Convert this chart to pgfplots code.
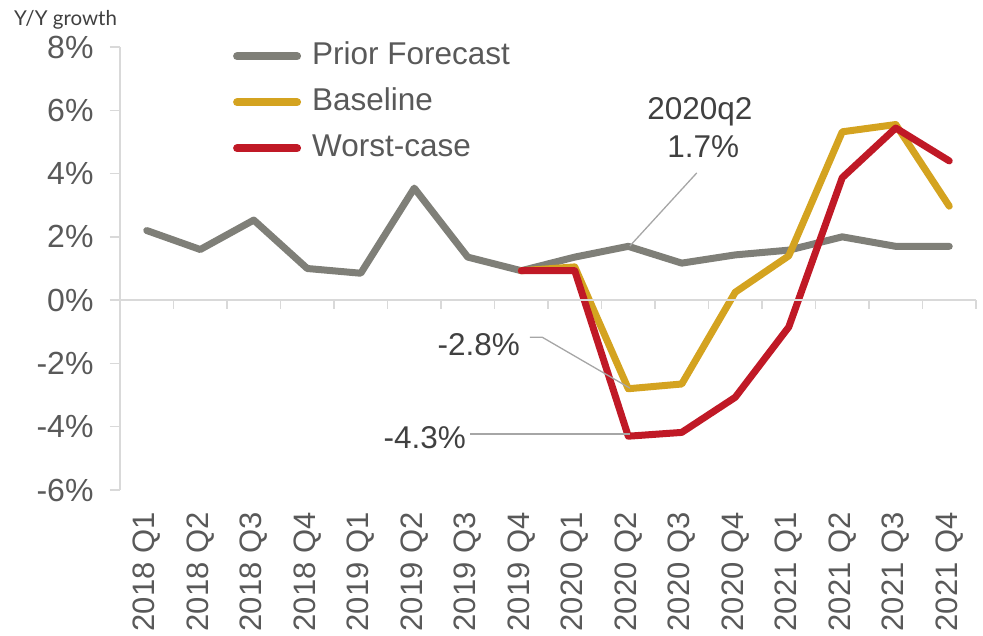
\documentclass[border=0pt]{standalone}
\usepackage{pgfplots}
\pgfplotsset{compat=1.18}
\usepackage{fontspec}
\setmainfont{Liberation Sans}
\newfontfamily\latofont{Lato}
\definecolor{cgray}{RGB}{127,127,120}
\definecolor{cgold}{RGB}{212,163,32}
\definecolor{cred}{RGB}{192,25,38}
\definecolor{caxis}{RGB}{217,217,217}
\definecolor{ctext}{RGB}{89,89,89}
\definecolor{cann}{RGB}{64,64,64}
\definecolor{clead}{RGB}{166,166,166}
\begin{document}
\begin{tikzpicture}[x=1pt,y=1pt]
\useasboundingbox (0,0) rectangle (983,636);
\node[anchor=west, font=\latofont\fontsize{20.5}{23}\selectfont, text=cann, inner sep=0pt] at (14,616) {Y/Y growth};
\begin{axis}[
  at={(120pt,146pt)}, anchor=south west,
  scale only axis, width=856pt, height=443pt,
  xmin=-0.5, xmax=15.5, ymin=-6, ymax=8,
  axis y line*=left, axis x line*=bottom,
  x axis line style={draw=none},
  y axis line style={caxis, line width=1.5pt},
  xtick={0,...,15},
  xticklabels={2018 Q1,2018 Q2,2018 Q3,2018 Q4,2019 Q1,2019 Q2,2019 Q3,2019 Q4,2020 Q1,2020 Q2,2020 Q3,2020 Q4,2021 Q1,2021 Q2,2021 Q3,2021 Q4},
  xtick style={draw=none},
  ytick={-6,-4,...,8},
  ytick style={caxis, line width=1.5pt},
  tick align=outside,
  major tick length=10pt,
  yticklabel={\pgfmathprintnumber{\tick}\%},
  /pgf/number format/assume math mode=true,
  ticklabel style={font=\fontsize{32}{35}\selectfont, text=ctext},
  xticklabel style={rotate=90, anchor=east, font=\fontsize{31}{34}\selectfont},
  xticklabel shift=9pt,
  yticklabel style={xshift=-13pt},
  clip=false,
  legend style={at={(axis cs:1.61,8.22)}, anchor=north west, draw=none, fill=none,
    inner sep=0pt, font=\fontsize{31.5}{34}\selectfont, text=ctext,
    nodes={inner sep=2pt, text height=22pt, text depth=6pt},
    row sep=14pt},
  legend cell align=left,
  legend image code/.code={\path[draw=none, fill=none] (0pt,-1pt) rectangle (77pt,1pt); \draw[#1, line width=8pt, line cap=round] (4pt,0pt) -- (64pt,0pt);},
  every axis plot/.append style={line width=7pt, line join=round, line cap=round},
]
\addplot[cgray] coordinates {(0,2.2)(1,1.6)(2,2.53)(3,1.0)(4,0.85)(5,3.54)(6,1.36)(7,0.93)(8,1.36)(9,1.7)(10,1.17)(11,1.43)(12,1.58)(13,2.0)(14,1.7)(15,1.7)};
\addlegendentry{Prior Forecast}
\addplot[cgold] coordinates {(7,0.93)(8,1.05)(9,-2.8)(10,-2.65)(11,0.25)(12,1.4)(13,5.32)(14,5.55)(15,2.97)};
\addlegendentry{Baseline}
\addplot[cred] coordinates {(7,0.93)(8,0.93)(9,-4.3)(10,-4.18)(11,-3.07)(12,-0.85)(13,3.87)(14,5.44)(15,4.4)};
\addlegendentry{Worst-case}
\draw[caxis, line width=1.5pt] (axis cs:-0.5,0) -- (axis cs:15.5,0);
\pgfplotsinvokeforeach{0,...,16}{\draw[caxis, line width=1.5pt] (axis cs:#1-0.5,0) -- ++(0pt,-9pt);}
\node[font=\fontsize{31.5}{34}\selectfont, text=cann, inner sep=0pt] at (axis cs:10.34,5.95) {2020q2};
\node[font=\fontsize{31.5}{34}\selectfont, text=cann, inner sep=0pt] at (axis cs:10.40,4.84) {1.7\%};
\draw[clead, line width=1.3pt] (axis cs:10.28,4.02) -- (axis cs:9.03,1.71);
\node[font=\fontsize{31.5}{34}\selectfont, text=cann, inner sep=0pt, anchor=east] at (axis cs:6.98,-1.42) {-2.8\%};
\draw[clead, line width=1.3pt] (axis cs:7.16,-1.17) -- (axis cs:7.39,-1.17) -- (axis cs:9.03,-2.78);
\node[font=\fontsize{31.5}{34}\selectfont, text=cann, inner sep=0pt, anchor=east] at (axis cs:5.97,-4.36) {-4.3\%};
\draw[clead, line width=1.3pt] (axis cs:6.04,-4.23) -- (axis cs:9.03,-4.23);
\end{axis}
\end{tikzpicture}
\end{document}
